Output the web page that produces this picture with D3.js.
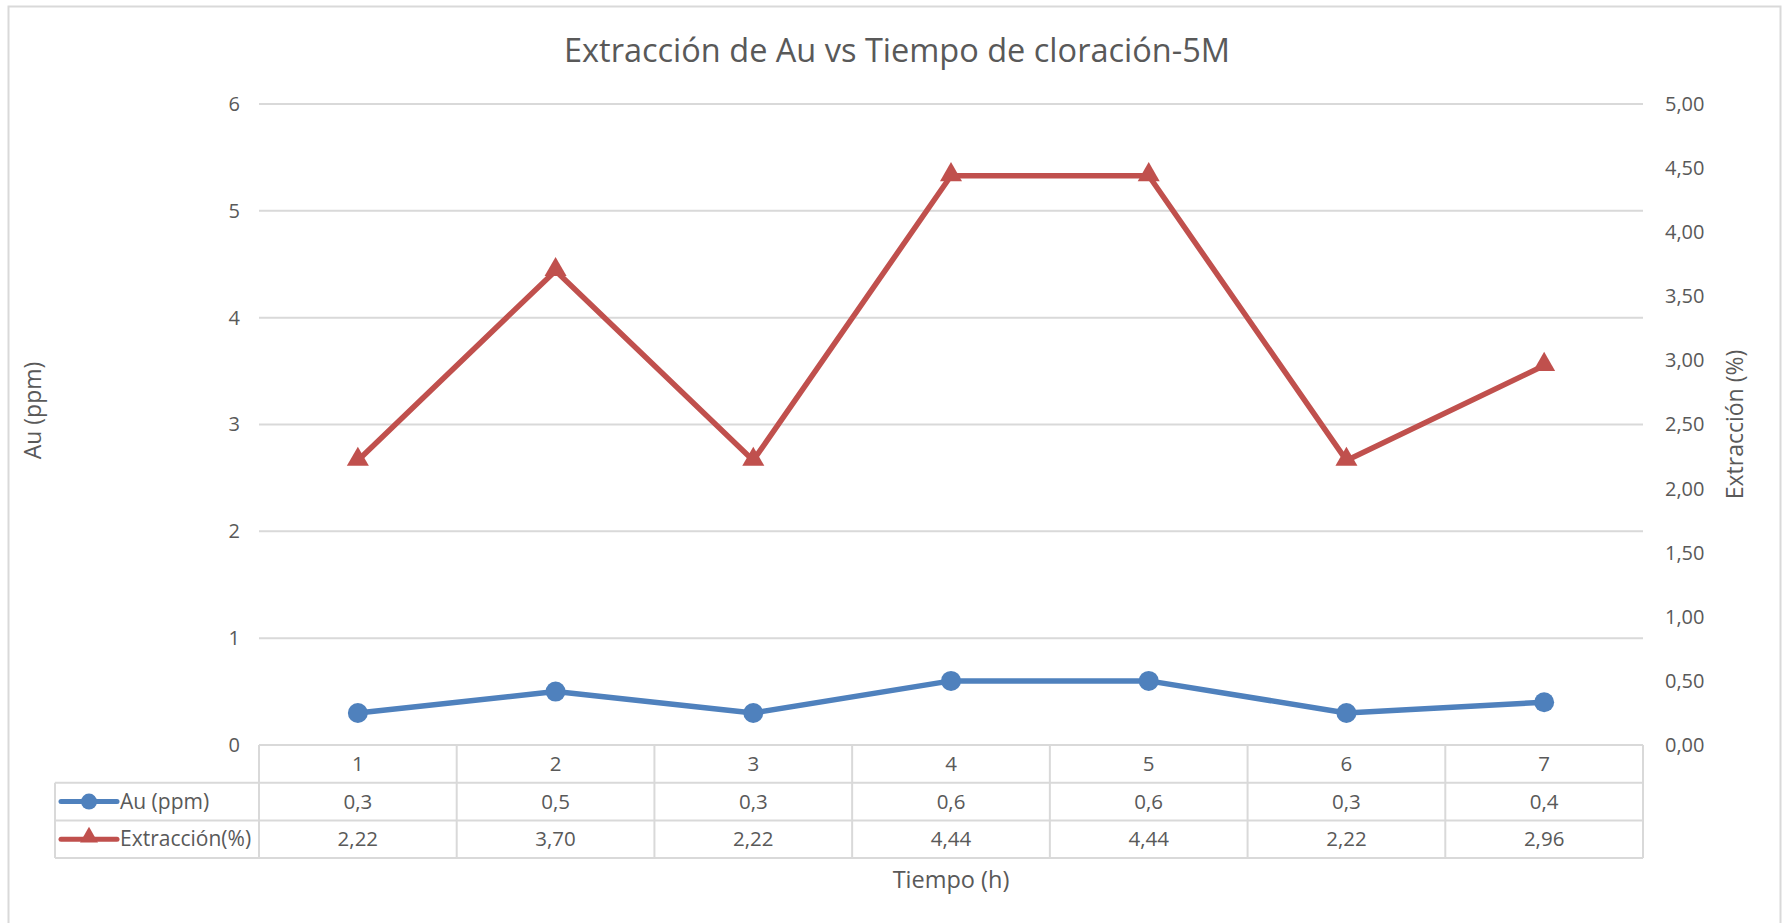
<!DOCTYPE html>
<html>
<head>
<meta charset="utf-8">
<script src="https://cdn.jsdelivr.net/npm/d3@7"></script>
<style>
  html, body { margin: 0; padding: 0; background: #fff; }
  svg { display: block; }
  text { font-family: "Open Sans", "Noto Sans", sans-serif; fill: #595959; }
</style>
</head>
<body>
<svg id="chart" width="1782" height="923"></svg>
<script>
// Data
const categories = ["1", "2", "3", "4", "5", "6", "7"];
const auPpm = [0.3, 0.5, 0.3, 0.6, 0.6, 0.3, 0.4];
const extraccion = [2.22, 3.70, 2.22, 4.44, 4.44, 2.22, 2.96];
const leftTicks = [0, 1, 2, 3, 4, 5, 6];
const rightTicks = [0, 0.5, 1, 1.5, 2, 2.5, 3, 3.5, 4, 4.5, 5];

const titleText = "Extracción de Au vs Tiempo de cloración-5M";
const leftTitle = "Au (ppm)";
const rightTitle = "Extracción (%)";
const xTitle = "Tiempo (h)";
const seriesNames = ["Au (ppm)", "Extracción(%)"];

const blue = "#4F81BD", red = "#C0504D", grid = "#D9D9D9";

// Spanish-style number formatting (comma decimal)
const loc = d3.formatLocale({ decimal: ",", thousands: ".", grouping: [3], currency: ["", "€"] });
const f1 = loc.format(".1f"), f2 = loc.format(".2f"), f0 = loc.format("d");

const svg = d3.select("#chart");

// Layout
const plot = { left: 259, right: 1643, top: 104, bottom: 745 };
const legendLeft = 55;
const rowH = 37.7;

const x = d3.scaleBand().domain(categories).range([plot.left, plot.right]);
const yL = d3.scaleLinear().domain([0, 6]).range([plot.bottom, plot.top]);
const yR = d3.scaleLinear().domain([0, 5]).range([plot.bottom, plot.top]);

// Outer chart border
svg.append("rect").attr("x", 8.5).attr("y", 6.5).attr("width", 1772).attr("height", 930)
  .attr("fill", "none").attr("stroke", grid).attr("stroke-width", 2);

// Title
svg.append("text").attr("x", (plot.left + plot.right) / 2 - 54).attr("y", 62)
  .attr("text-anchor", "middle").style("font-size", "32.5px").text(titleText);

// Gridlines
svg.append("g").selectAll("line").data(leftTicks.filter(d => d > 0)).join("line")
  .attr("x1", plot.left).attr("x2", plot.right)
  .attr("y1", d => yL(d)).attr("y2", d => yL(d))
  .attr("stroke", grid).attr("stroke-width", 2);

// Left axis
const axL = d3.axisLeft(yL).tickValues(leftTicks).tickFormat(f0).tickSize(0).tickPadding(19);
svg.append("g").attr("transform", `translate(${plot.left},0)`).call(axL)
  .call(g => g.select(".domain").remove())
  .call(g => g.selectAll("text").style("font-size", "20px").attr("fill", "#595959").style("font-family", '"Open Sans", sans-serif'));

// Right axis
const axR = d3.axisRight(yR).tickValues(rightTicks).tickFormat(f2).tickSize(0).tickPadding(22);
svg.append("g").attr("transform", `translate(${plot.right},0)`).call(axR)
  .call(g => g.select(".domain").remove())
  .call(g => g.selectAll("text").style("font-size", "20px").attr("fill", "#595959").style("font-family", '"Open Sans", sans-serif'));

// Axis titles
svg.append("text").attr("transform", `translate(41,${(plot.top + plot.bottom) / 2 - 14}) rotate(-90)`)
  .attr("text-anchor", "middle").style("font-size", "23px").text(leftTitle);
svg.append("text").attr("transform", `translate(1743,${(plot.top + plot.bottom) / 2}) rotate(-90)`)
  .attr("text-anchor", "middle").style("font-size", "23px").text(rightTitle);
svg.append("text").attr("x", (plot.left + plot.right) / 2).attr("y", 888)
  .attr("text-anchor", "middle").style("font-size", "23.5px").text(xTitle);

// Data table
const rows = [plot.bottom, plot.bottom + rowH, plot.bottom + 2 * rowH, plot.bottom + 3 * rowH];
const tbl = svg.append("g").attr("stroke", grid).attr("stroke-width", 2);
tbl.append("line").attr("x1", plot.left).attr("x2", plot.right).attr("y1", rows[0]).attr("y2", rows[0]);
rows.slice(1).forEach(r => tbl.append("line").attr("x1", legendLeft).attr("x2", plot.right).attr("y1", r).attr("y2", r));
tbl.append("line").attr("x1", legendLeft).attr("x2", legendLeft).attr("y1", rows[1]).attr("y2", rows[3]);
const bounds = categories.map(c => x(c)).concat([plot.right]);
tbl.selectAll("line.v").data(bounds).join("line").attr("class", "v")
  .attr("x1", d => d).attr("x2", d => d).attr("y1", rows[0]).attr("y2", rows[3]);

const cellText = (vals, rowIdx, fmt) => svg.append("g").selectAll("text").data(vals).join("text")
  .attr("x", (d, i) => x(categories[i]) + x.bandwidth() / 2)
  .attr("y", (rows[rowIdx] + rows[rowIdx + 1]) / 2 + 7)
  .attr("text-anchor", "middle").style("font-size", "20.5px").text(fmt);
cellText(categories, 0, d => d);
cellText(auPpm, 1, f1);
cellText(extraccion, 2, f2);

// Legend keys in table
const keyY1 = (rows[1] + rows[2]) / 2, keyY2 = (rows[2] + rows[3]) / 2;
svg.append("line").attr("x1", 61).attr("x2", 117).attr("y1", keyY1).attr("y2", keyY1)
  .attr("stroke", blue).attr("stroke-width", 5).attr("stroke-linecap", "round");
svg.append("circle").attr("cx", 89).attr("cy", keyY1).attr("r", 8).attr("fill", blue);
svg.append("line").attr("x1", 61).attr("x2", 117).attr("y1", keyY2).attr("y2", keyY2)
  .attr("stroke", red).attr("stroke-width", 5).attr("stroke-linecap", "round");
svg.append("path").attr("d", d3.symbol(d3.symbolTriangle, 140)())
  .attr("transform", `translate(89,${keyY2 - 2})`).attr("fill", red);
svg.append("text").attr("x", 120).attr("y", keyY1 + 7).style("font-size", "21px").text(seriesNames[0]);
svg.append("text").attr("x", 120).attr("y", keyY2 + 7).style("font-size", "21px").text(seriesNames[1]);

// Series lines
const cx = i => x(categories[i]) + x.bandwidth() / 2;
const lineAu = d3.line().x((d, i) => cx(i)).y(d => yL(d));
const lineEx = d3.line().x((d, i) => cx(i)).y(d => yR(d));

svg.append("path").datum(extraccion).attr("d", lineEx).attr("fill", "none")
  .attr("stroke", red).attr("stroke-width", 5.5).attr("stroke-linejoin", "round");
svg.append("g").selectAll("path").data(extraccion).join("path")
  .attr("d", d3.symbol(d3.symbolTriangle, 210)())
  .attr("transform", (d, i) => `translate(${cx(i)},${yR(d) - 1})`).attr("fill", red);

svg.append("path").datum(auPpm).attr("d", lineAu).attr("fill", "none")
  .attr("stroke", blue).attr("stroke-width", 5.5).attr("stroke-linejoin", "round");
svg.append("g").selectAll("circle").data(auPpm).join("circle")
  .attr("cx", (d, i) => cx(i)).attr("cy", d => yL(d)).attr("r", 10).attr("fill", blue);
</script>
</body>
</html>
